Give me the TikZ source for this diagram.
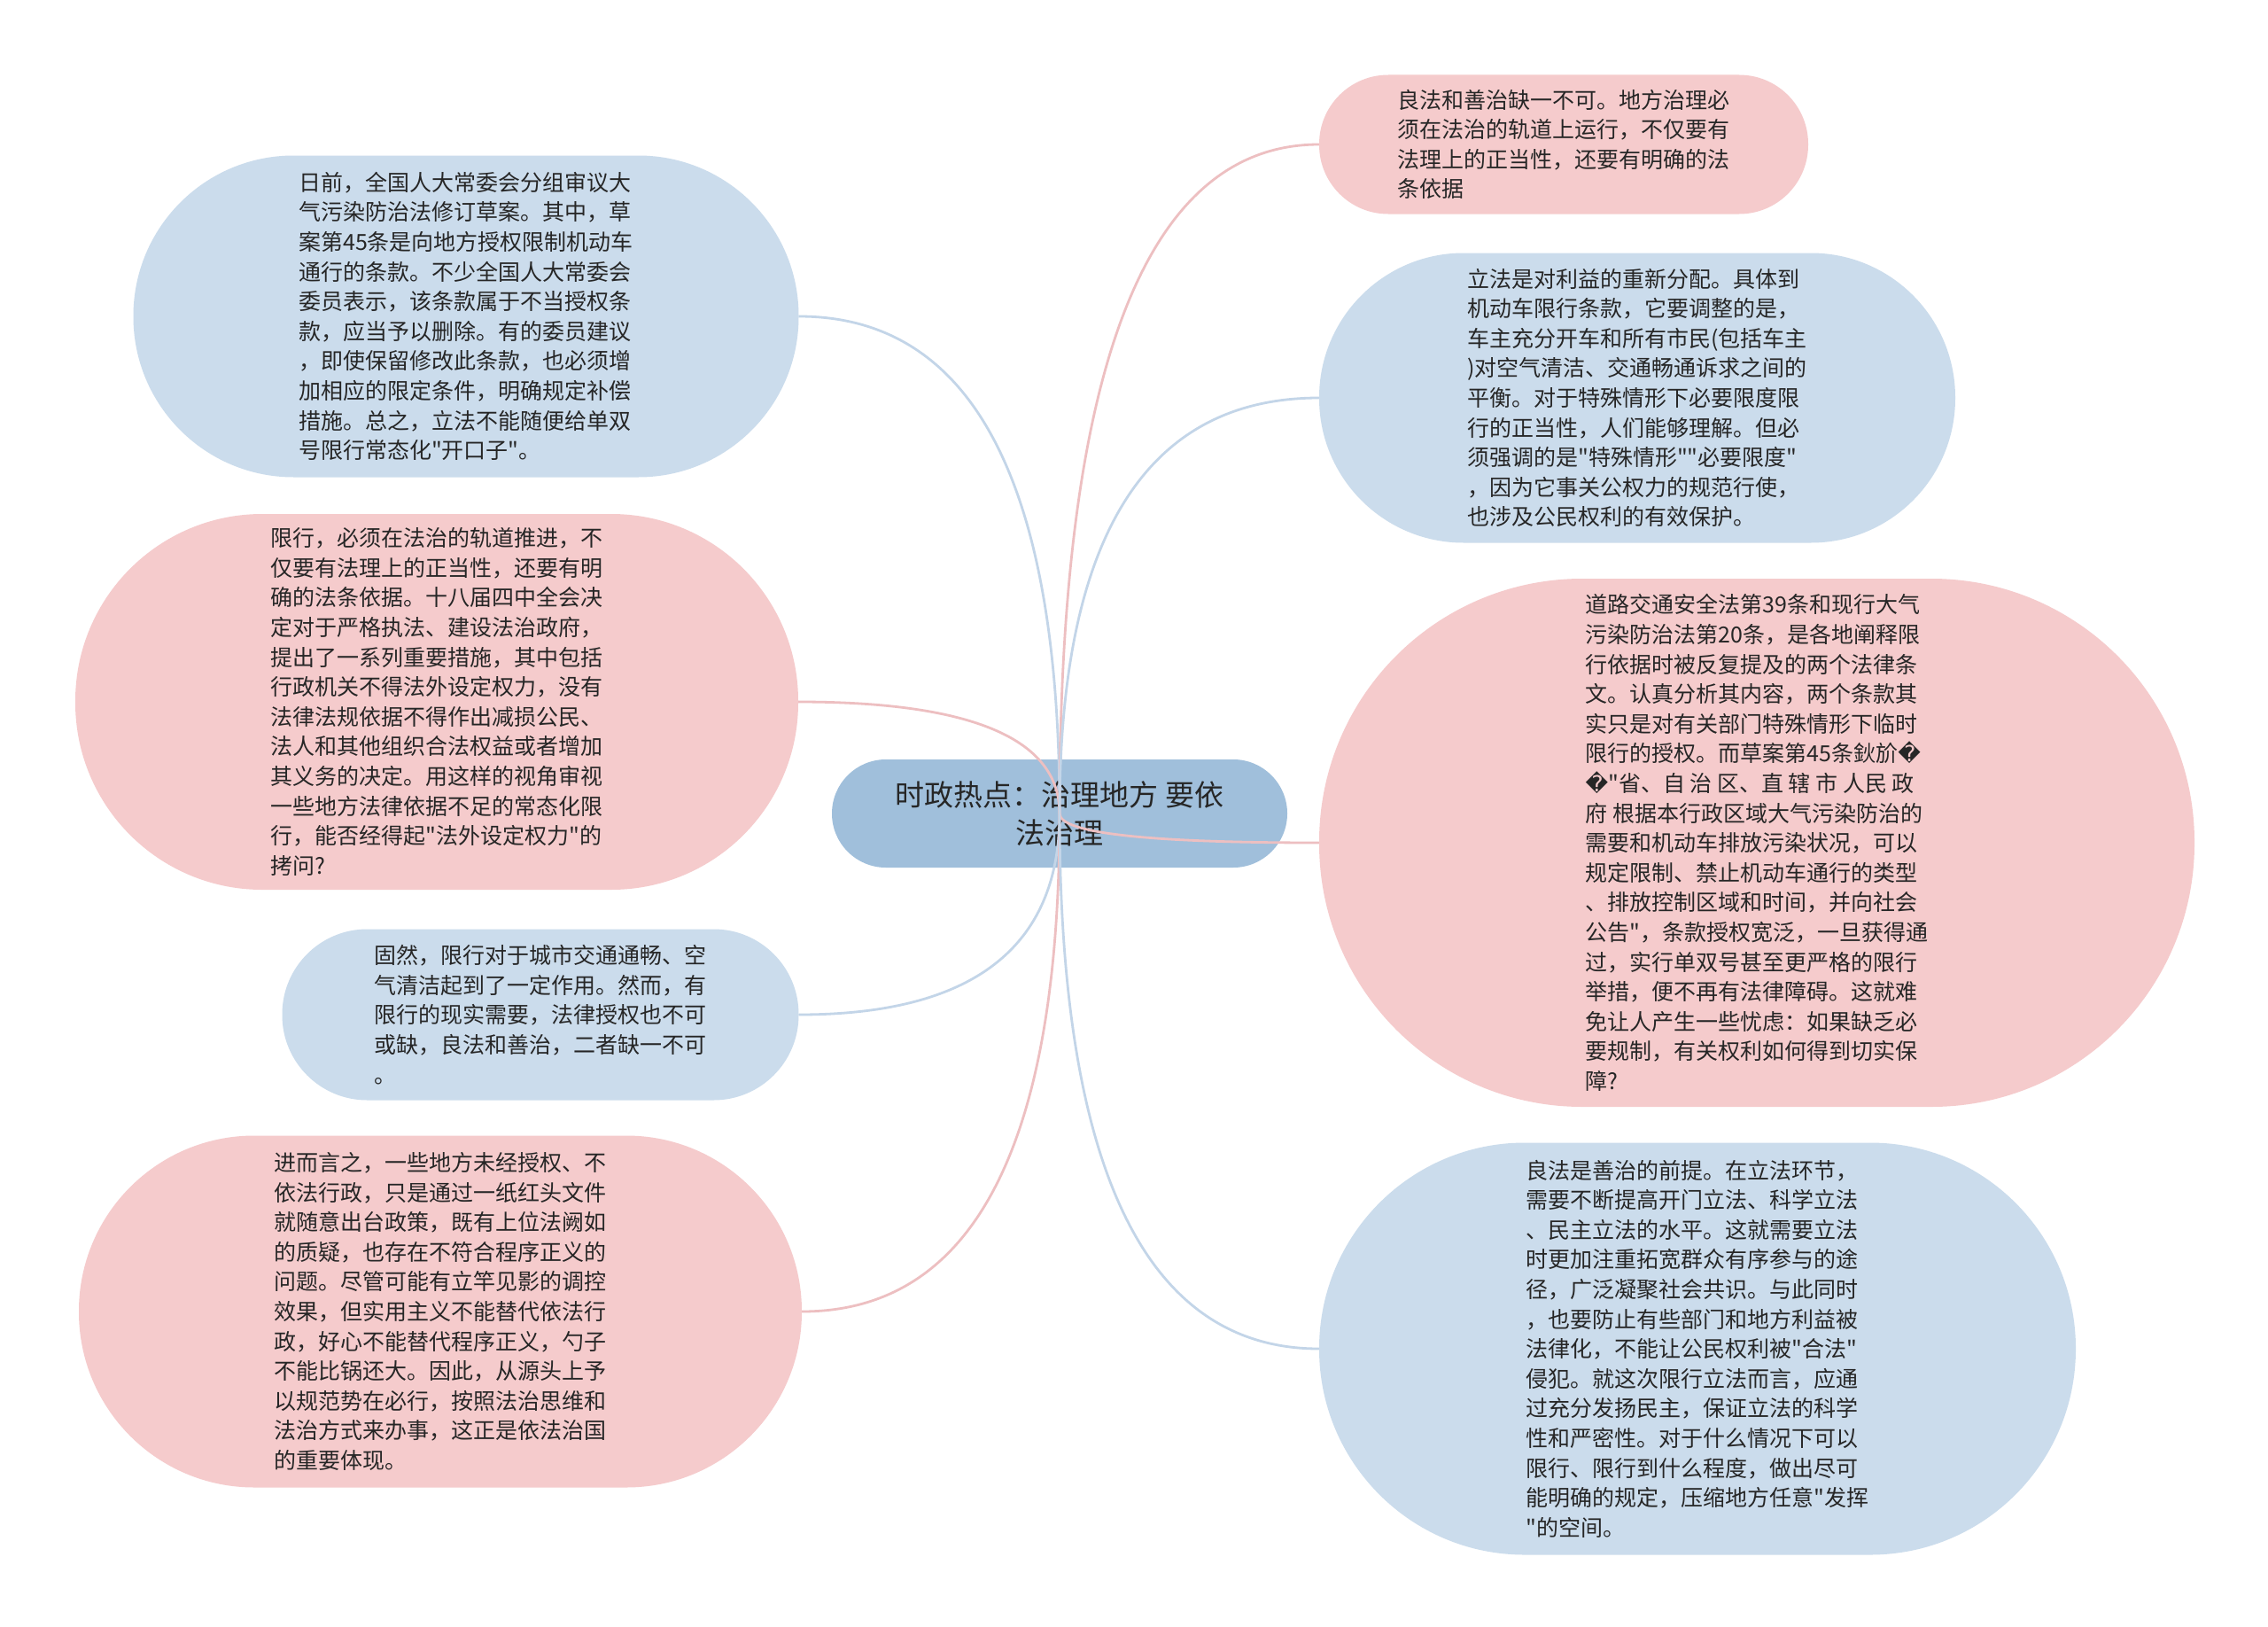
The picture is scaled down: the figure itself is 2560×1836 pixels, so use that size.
\documentclass[tikz,border=0pt]{standalone}
\usepackage{fontspec}
\newfontfamily\cjk{Noto Sans CJK SC}
\newfontfamily\djv{DejaVu Sans}
\usetikzlibrary{calc}
\definecolor{pinkfill}{HTML}{F5CBCC}
\definecolor{bluefill}{HTML}{CBDCEC}
\definecolor{rootfill}{HTML}{A0BFDB}
\definecolor{pinkline}{HTML}{EDBFC1}
\definecolor{blueline}{HTML}{C3D5E8}
\definecolor{txt}{HTML}{262626}
\tikzset{
 bubble/.style={rectangle, inner sep=0pt, align=left, text=txt, font=\cjk\fontsize{25}{33.6}\selectfont},
 pinkbub/.style={bubble, fill=pinkfill},
 bluebub/.style={bubble, fill=bluefill},
 rootbub/.style={rectangle, inner sep=0pt, align=center, text=txt, fill=rootfill, font=\cjk\fontsize{33}{43}\selectfont},
 pinkedge/.style={draw=pinkline, line width=2.8pt},
 blueedge/.style={draw=blueline, line width=2.8pt},
}
\newcommand\mmlink[2]{\draw[#1] (root.center) .. controls ($(root.center)!2/3!(root.center |- #2)$) and ($(#2)!2/3!(root.center |- #2)$) .. (#2);}
\begin{document}
\begin{tikzpicture}[x=1pt,y=-1pt]
\fill[white] (0,0) rectangle (2560,1836);
\useasboundingbox (0,0) rectangle (2560,1836);
% left side
\node[bluebub, minimum width=751pt, minimum height=363pt, rounded corners=181pt] (L1) at (526,357) {日前，全国人大常委会分组审议大\\气污染防治法修订草案。其中，草\\案第45条是向地方授权限制机动车\\通行的条款。不少全国人大常委会\\委员表示，该条款属于不当授权条\\款，应当予以删除。有的委员建议\\，即使保留修改此条款，也必须增\\加相应的限定条件，明确规定补偿\\措施。总之，立法不能随便给单双\\号限行常态化"开口子"。};
\node[pinkbub, minimum width=816pt, minimum height=424pt, rounded corners=211pt] (L2) at (493,792) {限行，必须在法治的轨道推进，不\\仅要有法理上的正当性，还要有明\\确的法条依据。十八届四中全会决\\定对于严格执法、建设法治政府，\\提出了一系列重要措施，其中包括\\行政机关不得法外设定权力，没有\\法律法规依据不得作出减损公民、\\法人和其他组织合法权益或者增加\\其义务的决定。用这样的视角审视\\一些地方法律依据不足的常态化限\\行，能否经得起"法外设定权力"的\\拷问?};
\node[bluebub, minimum width=583pt, minimum height=193pt, rounded corners=96pt] (L3) at (610,1145) {固然，限行对于城市交通通畅、空\\气清洁起到了一定作用。然而，有\\限行的现实需要，法律授权也不可\\或缺，良法和善治，二者缺一不可\\。};
\node[pinkbub, minimum width=816pt, minimum height=397pt, rounded corners=198pt] (L4) at (497,1480) {进而言之，一些地方未经授权、不\\依法行政，只是通过一纸红头文件\\就随意出台政策，既有上位法阙如\\的质疑，也存在不符合程序正义的\\问题。尽管可能有立竿见影的调控\\效果，但实用主义不能替代依法行\\政，好心不能替代程序正义，勺子\\不能比锅还大。因此，从源头上予\\以规范势在必行，按照法治思维和\\法治方式来办事，这正是依法治国\\的重要体现。};
% right side
\node[pinkbub, minimum width=552pt, minimum height=157pt, rounded corners=78pt] (R1) at (1765,163) {良法和善治缺一不可。地方治理必\\须在法治的轨道上运行，不仅要有\\法理上的正当性，还要有明确的法\\条依据};
\node[bluebub, minimum width=718pt, minimum height=327pt, rounded corners=163pt] (R2) at (1848,449) {立法是对利益的重新分配。具体到\\机动车限行条款，它要调整的是，\\车主充分开车和所有市民(包括车主\\)对空气清洁、交通畅通诉求之间的\\平衡。对于特殊情形下必要限度限\\行的正当性，人们能够理解。但必\\须强调的是"特殊情形""必要限度"\\，因为它事关公权力的规范行使，\\也涉及公民权利的有效保护。};
\node[pinkbub, minimum width=988pt, minimum height=596pt, rounded corners=297pt] (R3) at (1983,951) {道路交通安全法第39条和现行大气\\污染防治法第20条，是各地阐释限\\行依据时被反复提及的两个法律条\\文。认真分析其内容，两个条款其\\实只是对有关部门特殊情形下临时\\限行的授权。而草案第45条鈥斺{\djv �}\\{\djv �}"省、自 治 区、直 辖 市 人民 政\\府 根据本行政区域大气污染防治的\\需要和机动车排放污染状况，可以\\规定限制、禁止机动车通行的类型\\、排放控制区域和时间，并向社会\\公告"，条款授权宽泛，一旦获得通\\过，实行单双号甚至更严格的限行\\举措，便不再有法律障碍。这就难\\免让人产生一些忧虑：如果缺乏必\\要规制，有关权利如何得到切实保\\障?};
\node[bluebub, minimum width=854pt, minimum height=465pt, rounded corners=232pt] (R4) at (1916,1522) {良法是善治的前提。在立法环节，\\需要不断提高开门立法、科学立法\\、民主立法的水平。这就需要立法\\时更加注重拓宽群众有序参与的途\\径，广泛凝聚社会共识。与此同时\\，也要防止有些部门和地方利益被\\法律化，不能让公民权利被"合法"\\侵犯。就这次限行立法而言，应通\\过充分发扬民主，保证立法的科学\\性和严密性。对于什么情况下可以\\限行、限行到什么程度，做出尽可\\能明确的规定，压缩地方任意"发挥\\"的空间。};
% root
\node[rootbub, minimum width=514pt, minimum height=122pt, rounded corners=61pt] (root) at (1196,918) {时政热点：治理地方 要依\\法治理};
% connectors
\mmlink{blueedge}{L1.east}
\mmlink{pinkedge}{L2.east}
\mmlink{blueedge}{L3.east}
\mmlink{pinkedge}{L4.east}
\mmlink{pinkedge}{R1.west}
\mmlink{blueedge}{R2.west}
\mmlink{pinkedge}{R3.west}
\mmlink{blueedge}{R4.west}
\end{tikzpicture}
\end{document}
